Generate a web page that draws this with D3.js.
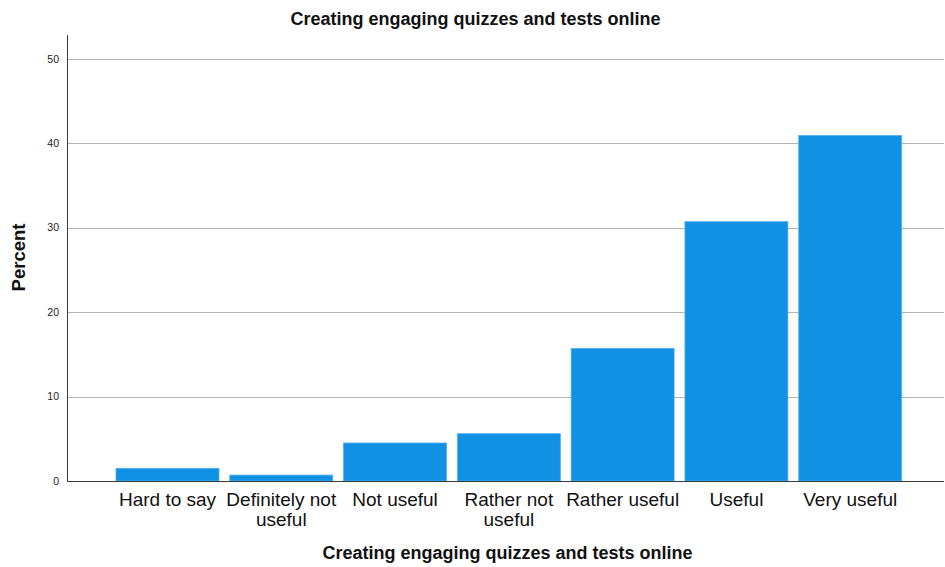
<!DOCTYPE html>
<html>
<head>
<meta charset="utf-8">
<script src="https://cdn.jsdelivr.net/npm/d3@7"></script>
<style>
  html, body { margin: 0; padding: 0; background: #ffffff; }
  svg { display: block; }
</style>
</head>
<body>
<svg id="chart" width="945" height="567"></svg>
<script>
const chartTitle = "Creating engaging quizzes and tests online";
const xTitle = "Creating engaging quizzes and tests online";
const yTitle = "Percent";
const categories = ["Hard to say", "Definitely not useful", "Not useful", "Rather not useful", "Rather useful", "Useful", "Very useful"];
const percents = [1.5, 0.7, 4.5, 5.6, 15.7, 30.7, 40.9];
const yTicks = [0, 10, 20, 30, 40, 50];

const svg = d3.select("#chart");
const W = 945, H = 567;
const plot = { left: 67, right: 944, top: 35, bottom: 481 };
const FONT = "Liberation Sans, Arial, sans-serif";

svg.append("rect").attr("width", W).attr("height", H).attr("fill", "#ffffff");

const x = d3.scaleBand()
  .domain(categories)
  .range([110.6, 907.1])
  .paddingInner(0.095)
  .paddingOuter(0.0475);

const y = d3.scaleLinear()
  .domain([0, 52.8])
  .range([plot.bottom, plot.top]);

// gridlines
svg.append("g")
  .selectAll("line")
  .data(yTicks.filter(d => d > 0))
  .join("line")
  .attr("x1", plot.left).attr("x2", plot.right)
  .attr("y1", d => Math.round(y(d)) + 0.5).attr("y2", d => Math.round(y(d)) + 0.5)
  .attr("stroke", "#b4b4b4").attr("stroke-width", 1);

// bars
svg.append("g")
  .selectAll("rect")
  .data(categories.map((c, i) => ({ c, v: percents[i] })))
  .join("rect")
  .attr("x", d => x(d.c))
  .attr("width", x.bandwidth())
  .attr("y", d => y(d.v))
  .attr("height", d => y(0) - y(d.v))
  .attr("fill", "#1191e3")
  .attr("stroke", "#52aeee")
  .attr("stroke-width", 0.8);

// y axis
const yAxis = d3.axisLeft(y).tickValues(yTicks).tickSize(0).tickPadding(8).tickFormat(d3.format("d"));
const gy = svg.append("g").attr("transform", `translate(${plot.left},0)`).call(yAxis);
gy.select(".domain").remove();
gy.selectAll("text")
  .attr("font-family", FONT)
  .attr("font-size", 10.5)
  .attr("fill", "#222");

// axis lines
svg.append("line")
  .attr("x1", plot.left + 0.5).attr("x2", plot.left + 0.5)
  .attr("y1", plot.top).attr("y2", plot.bottom)
  .attr("stroke", "#3a3a3a").attr("stroke-width", 1);
svg.append("line")
  .attr("x1", plot.left).attr("x2", plot.right)
  .attr("y1", plot.bottom + 0.5).attr("y2", plot.bottom + 0.5)
  .attr("stroke", "#3a3a3a").attr("stroke-width", 1);

// x axis labels
const xAxis = d3.axisBottom(x).tickSize(0).tickPadding(0);
const gx = svg.append("g").attr("transform", `translate(0,${plot.bottom})`).call(xAxis);
gx.select(".domain").remove();
gx.selectAll("text")
  .attr("font-family", FONT)
  .attr("font-size", 19)
  .attr("fill", "#111")
  .attr("dy", null)
  .attr("y", 0)
  .each(function(d) {
    const t = d3.select(this);
    const words = d.split(" ");
    const maxW = x.step() + 4;
    t.text(null);
    let lines = [];
    let cur = [];
    const probe = t.append("tspan");
    for (const w of words) {
      const test = cur.concat([w]).join(" ");
      probe.text(test);
      if (probe.node().getComputedTextLength() > maxW && cur.length) {
        lines.push(cur.join(" "));
        cur = [w];
      } else {
        cur.push(w);
      }
    }
    lines.push(cur.join(" "));
    probe.remove();
    lines.forEach((ln, i) => {
      t.append("tspan").attr("x", 0).attr("y", 25 + i * 19.5).text(ln);
    });
  });

// chart title
svg.append("text")
  .attr("x", W / 2 + 3).attr("y", 25)
  .attr("text-anchor", "middle")
  .attr("font-family", FONT)
  .attr("font-weight", "bold")
  .attr("font-size", 18)
  .attr("fill", "#111")
  .text(chartTitle);

// x title
svg.append("text")
  .attr("x", (plot.left + plot.right) / 2 + 2).attr("y", 559)
  .attr("text-anchor", "middle")
  .attr("font-family", FONT)
  .attr("font-weight", "bold")
  .attr("font-size", 18)
  .attr("fill", "#111")
  .text(xTitle);

// y title
svg.append("text")
  .attr("transform", `translate(25,257.5) rotate(-90)`)
  .attr("text-anchor", "middle")
  .attr("font-family", FONT)
  .attr("font-weight", "bold")
  .attr("font-size", 18.5)
  .attr("fill", "#111")
  .text(yTitle);
</script>
</body>
</html>
